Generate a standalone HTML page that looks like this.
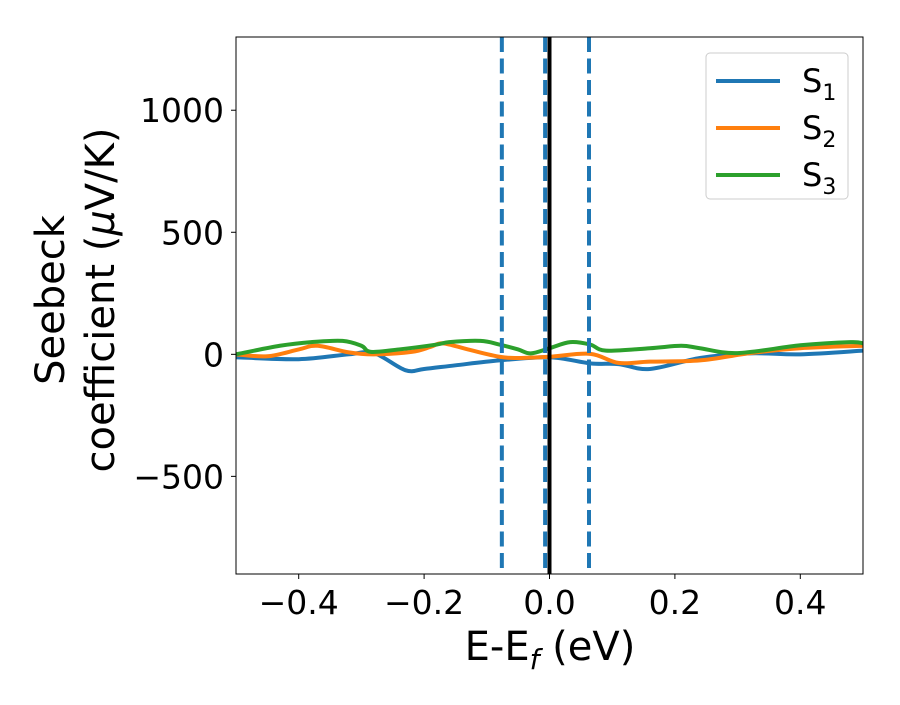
<!DOCTYPE html>
<html><head><meta charset="utf-8"><style>
body{margin:0;background:#fff}
svg{font-family:"DejaVu Sans","Liberation Sans",sans-serif}
</style></head><body>
<svg id="chart" width="900" height="700" xmlns="http://www.w3.org/2000/svg">
<rect width="900" height="700" fill="#fff"/>
<g id="plot"></g>
</svg>
<script>
const xTicks=[-0.4,-0.2,0.0,0.2,0.4];
const xTickLabels=["−0.4","−0.2","0.0","0.2","0.4"];
const yTicks=[-500,0,500,1000];
const yTickLabels=["−500","0","500","1000"];
const dashedLines=[-0.076,-0.007,0.063];
const fermiLine=[0];
const s1x=[-0.5,-0.4,-0.32,-0.28,-0.23,-0.2,-0.15,-0.08,0,0.065,0.11,0.16,0.24,0.32,0.4,0.5];
const s1y=[-12,-20,0,5,-65,-60,-45,-25,-12,-37,-40,-60,-15,4,0,15];
const s2x=[-0.5,-0.45,-0.4,-0.37,-0.32,-0.28,-0.22,-0.19,-0.17,-0.13,-0.08,-0.05,0,0.065,0.11,0.16,0.24,0.32,0.4,0.5];
const s2y=[0,-8,20,35,8,0,10,30,45,20,-10,-15,-10,2,-35,-30,-25,5,25,35];
const s3x=[-0.5,-0.43,-0.38,-0.33,-0.30,-0.285,-0.24,-0.18,-0.16,-0.11,-0.08,-0.05,-0.03,0,0.033,0.065,0.09,0.16,0.21,0.24,0.3,0.4,0.48,0.5];
const s3y=[0,35,50,55,35,10,20,40,50,55,40,20,4,25,50,40,15,25,35,25,5,37,50,45];

const L=236,R=863,T=37,B=574,xmin=-0.5,xmax=0.5,ymin=-900,ymax=1300;
const sx=v=>L+(v-xmin)/(xmax-xmin)*(R-L);
const sy=v=>B-(v-ymin)/(ymax-ymin)*(B-T);
const NS="http://www.w3.org/2000/svg";
const g=document.getElementById('plot');
function mk(t,a,p){const e=document.createElementNS(NS,t);for(const k in a)e.setAttribute(k,a[k]);(p||g).appendChild(e);return e;}
const clip=mk('clipPath',{id:'cp'});mk('rect',{x:L,y:T,width:R-L,height:B-T},clip);
function path(xs,ys){const p=xs.map((x,i)=>[sx(x),sy(ys[i])]);let d='M'+p[0][0]+','+p[0][1];
for(let i=0;i<p.length-1;i++){const p0=p[Math.max(0,i-1)],p1=p[i],p2=p[i+1],p3=p[Math.min(p.length-1,i+2)];
d+=' C'+(p1[0]+(p2[0]-p0[0])/6)+','+(p1[1]+(p2[1]-p0[1])/6)+' '+(p2[0]-(p3[0]-p1[0])/6)+','+(p2[1]-(p3[1]-p1[1])/6)+' '+p2[0]+','+p2[1];}return d;}
const series=[[s1x,s1y,'#1f77b4','series-s1'],[s2x,s2y,'#ff7f0e','series-s2'],[s3x,s3y,'#2ca02c','series-s3']];
series.forEach(s=>{const e=mk('path',{d:path(s[0],s[1]),fill:'none',stroke:s[2],'stroke-width':4,'clip-path':'url(#cp)'});

});
dashedLines.forEach(v=>{const e=mk('line',{x1:sx(v),x2:sx(v),y1:T,y2:B,stroke:'#1f77b4','stroke-width':4,'stroke-dasharray':'15,6.5'});

});
fermiLine.forEach(v=>{const e=mk('line',{x1:sx(v),x2:sx(v),y1:T,y2:B,stroke:'#000','stroke-width':4});

});
const fr=mk('rect',{x:L,y:T,width:R-L,height:B-T,fill:'none',stroke:'#000','stroke-width':1});


xTicks.forEach((v,i)=>{mk('line',{x1:sx(v),x2:sx(v),y1:B,y2:B+5,stroke:'#000'});
const t=mk('text',{x:sx(v),y:B+40,'text-anchor':'middle','font-size':33});t.textContent=xTickLabels[i];

});
yTicks.forEach((v,i)=>{mk('line',{x1:L-5,x2:L,y1:sy(v),y2:sy(v),stroke:'#000'});
const t=mk('text',{x:L-12,y:sy(v)+12,'text-anchor':'end','font-size':33});t.textContent=yTickLabels[i];

});
const xt=mk('text',{x:550,y:660,'text-anchor':'middle','font-size':40});
xt.innerHTML='E-E<tspan font-size="28" dy="9" font-style="italic">f</tspan><tspan dy="-9"> (eV)</tspan>';


const yg=mk('g',{transform:'translate(64,300) rotate(-90)'});


const y1=mk('text',{x:0,y:0,'text-anchor':'middle','font-size':40},yg);y1.textContent='Seebeck';
const y2=mk('text',{x:0,y:50,'text-anchor':'middle','font-size':40},yg);y2.innerHTML='coefficient  (<tspan font-style="italic">μ</tspan>V/K)';
const lg=mk('g',{});


mk('rect',{x:706,y:53,width:142,height:146,rx:4,fill:'#fff',stroke:'#ccc'},lg);
series.forEach((s,i)=>{const y=81+i*47;mk('line',{x1:716,x2:780,y1:y,y2:y,stroke:s[2],'stroke-width':4},lg);
const t=mk('text',{x:802,y:y+11,'font-size':32},lg);t.innerHTML='S<tspan font-size="22" dy="8">'+(i+1)+'</tspan>';

});
</script>
</body></html>
